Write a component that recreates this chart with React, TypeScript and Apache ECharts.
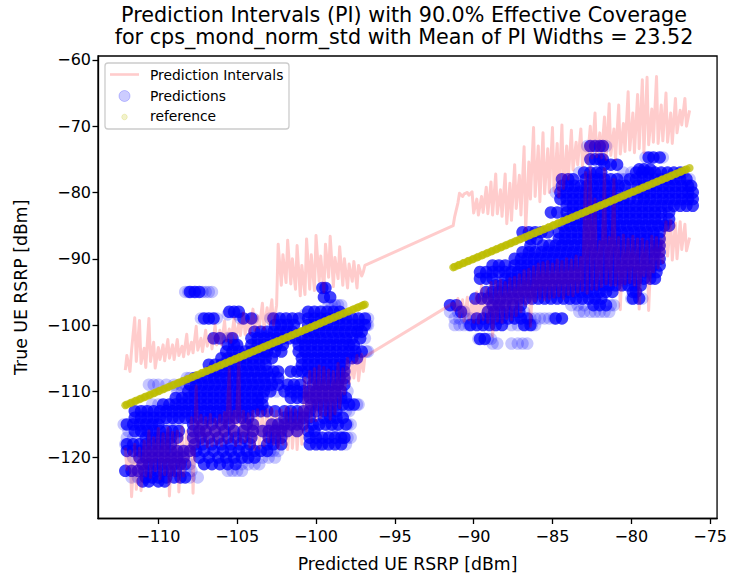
import React, { useEffect, useRef } from "react";
import * as echarts from "echarts";

const xTicks = [-110, -105, -100, -95, -90, -85, -80, -75];
const yTicks = [-120, -110, -100, -90, -80, -70, -60];

const piXLeft = [
  -112.1,-112,-111.8,-111.7,-111.5,-111.4,-111.2,-111.1,-110.9,-110.8,
  -110.6,-110.5,-110.3,-110.2,-110,-109.9,-109.7,-109.6,-109.4,-109.3,
  -109.1,-109,-108.8,-108.7,-108.5,-108.4,-108.2,-108.1,-107.9,-107.8,
  -107.6,-107.5,-107.3,-107.2,-107,-106.9,-106.7,-106.6,-106.4,-106.3,
  -106.1,-106,-105.8,-105.7,-105.5,-105.4,-105.2,-105.1,-104.9,-104.8,
  -104.6,-104.5,-104.3,-104.2,-104,-103.9,-103.7,-103.6,-103.4,-103.3,
  -103.1,-103,-102.8,-102.7,-102.5,-102.4,-102.2,-102.1,-101.9,-101.8,
  -101.6,-101.5,-101.3,-101.2,-101,-100.9,-100.7,-100.6,-100.4,-100.3,
  -100.1,-100,-99.8,-99.7,-99.5,-99.4,-99.2,-99.1,-98.9,-98.8,
  -98.6,-98.5,-98.3,-98.2,-98,-97.9,-97.7,-97.6,-97.4,-97.3,
  -97.1,-97,-96.9,
];
const upperLeft = [
  -106.8,-104.6,-107,-103.8,-98.9,-105.5,-99.3,-105.8,-103.5,-106.4,
  -99,-105.5,-102.6,-106.5,-103.4,-105.2,-103,-105.4,-102.2,-105,
  -103,-105.2,-102.2,-104.6,-103.2,-104.8,-101.4,-104.4,-102.6,-104.2,
  -100.2,-103.8,-102,-104,-100.8,-103.2,-101.4,-103.6,-100,-103,
  -100.8,-103,-99.4,-102.4,-100.6,-102.6,-99,-102,-99.8,-101.6,
  -98.2,-101.4,-99.4,-101.2,-97.6,-100.8,-98.6,-100.4,-96.7,-100.6,
  -97.4,-99.8,-96.2,-100,-97,-87.8,-94,-89.4,-93.6,-87.2,
  -93.8,-90,-94.6,-88,-95.6,-91,-95.4,-87,-94.6,-89.4,
  -94.8,-86.5,-93.4,-89.6,-95,-87.8,-92.8,-86.6,-94.2,-89.8,
  -93,-88.2,-94,-90,-94.4,-90.8,-93.4,-90.4,-94.4,-91,
  -92.6,-92,-91,
];
const lowerLeft = [
  -118.5,-121.8,-119,-125.9,-118,-124.8,-118.6,-125,-117.5,-122.8,
  -116,-123,-117,-122,-115.6,-123.2,-116.4,-122.6,-115.5,-125.8,
  -116.2,-122.8,-116,-125.2,-115.4,-122.8,-116,-121.5,-114,-125.4,
  -109.2,-118.4,-113.6,-118,-114,-118.4,-113.5,-118.2,-114.2,-118,
  -113.6,-118.2,-113.2,-117.8,-106.5,-117.6,-113,-118.2,-105,-118,
  -113,-117.6,-113.4,-118.4,-113,-118.8,-112.8,-118.6,-113,-118.2,
  -112.8,-117.6,-112.6,-118,-113,-118.6,-112.8,-118,-112.4,-118.8,
  -112.6,-118.6,-112.8,-118.8,-112.4,-118,-108,-116,-107,-114.6,
  -106.6,-114.4,-106.2,-114,-106.4,-113.6,-106.8,-114.2,-107,-113.4,
  -105.8,-112.5,-106.6,-110.4,-105,-108.8,-105.6,-108,-104.6,-108.4,
  -104.4,-107,-104.8,
];
const piXRight = [
  -91.3,-91.2,-91,-90.9,-90.7,-90.6,-90.4,-90.3,-90.1,-90,
  -89.8,-89.7,-89.5,-89.4,-89.2,-89.1,-88.9,-88.8,-88.6,-88.5,
  -88.3,-88.2,-88,-87.9,-87.7,-87.6,-87.4,-87.3,-87.1,-87,
  -86.8,-86.7,-86.5,-86.4,-86.2,-86.1,-85.9,-85.8,-85.6,-85.5,
  -85.3,-85.2,-85,-84.9,-84.7,-84.6,-84.4,-84.3,-84.1,-84,
  -83.8,-83.7,-83.5,-83.4,-83.2,-83.1,-82.9,-82.8,-82.6,-82.5,
  -82.3,-82.2,-82,-81.9,-81.7,-81.6,-81.4,-81.3,-81.1,-81,
  -80.8,-80.7,-80.5,-80.4,-80.2,-80.1,-79.9,-79.8,-79.6,-79.5,
  -79.3,-79.2,-79,-78.9,-78.7,-78.6,-78.4,-78.3,-78.1,-78,
  -77.8,-77.7,-77.5,-77.4,-77.2,-77.1,-76.9,-76.8,-76.6,-76.5,
  -76.3,
];
const upperRight = [
  -85,-83.6,-81.6,-80.1,-80.6,-80.2,-80,-80.4,-79.9,-83.1,
  -81,-83.4,-80.6,-83,-79.2,-83.2,-78.4,-83.4,-77.2,-83.2,
  -79.6,-83.6,-77.2,-84.7,-78.6,-84.2,-75.8,-82.4,-77.4,-83.4,
  -73.1,-85.7,-75.4,-81,-70.2,-80.6,-73,-81.4,-71,-80.2,
  -73.4,-80,-70.2,-79.8,-72.6,-80.6,-69.8,-79.4,-73,-78,
  -70.6,-76.6,-72.4,-75.8,-70.4,-76,-72.6,-75.6,-70,-74.8,
  -68,-74.6,-71,-74.8,-68.6,-75,-66.6,-74.4,-70.4,-75,
  -66.8,-74.2,-69.6,-73.8,-64.8,-73.6,-68,-74,-65.2,-73.4,
  -63,-74,-62.6,-72.8,-67.4,-72.4,-62.5,-72.6,-66.8,-72.2,
  -65,-72.4,-68,-72.6,-65.8,-71,-67.6,-69.8,-65.8,-70,
  -67.6,
];
const lowerRight = [
  -96.7,-97.8,-96,-98.8,-96.2,-99.4,-95.8,-99.2,-96.4,-99.6,
  -95,-99.7,-94,-99.2,-94.4,-99.6,-93.6,-101.7,-93.4,-99.4,
  -93.2,-99.6,-93.6,-99,-93,-99.2,-92.8,-98.6,-92.4,-98,
  -91.8,-97,-91.6,-100.2,-91.2,-96.4,-90.8,-96,-90.6,-96.2,
  -90.4,-96,-90.8,-95.8,-90.2,-95.6,-90.4,-96,-90,-95.4,
  -90.2,-95.6,-89.6,-95,-89.8,-94.8,-77,-95.2,-76.1,-94.6,
  -81,-94.6,-87.4,-94.2,-76.4,-93.8,-86.8,-94,-78,-94,
  -86.8,-97.7,-86.4,-93.8,-87,-93.6,-86.6,-94,-87,-97.6,
  -87,-92.6,-87.4,-97.8,-86.6,-92,-86.8,-91.4,-87,-90.6,
  -84.4,-89.6,-84.2,-90.2,-84.6,-90,-84.4,-88.6,-84.8,-88.8,
  -86.8,
];

// Each row: true RSRP, then predicted RSRP values on that row
const denseLeft = [
  [-94.4,-99.6,-99.4],
  [-95,-108,-107.7,-107.4],
  [-95.8,-99.5,-99.1],
  [-98,-105.5,-105.2,-104.9,-100.5,-100.1,-99.7,-99.3,-98.9,-98.5],
  [-99,-107.1,-106.8,-106.5,-104.6,-104.1,-102.7,-102.3,-101.9,-101.5,-101.1,-100.5,-100.1,-99.7,-99.3,-98.9,-98.5,-98.1,-97.7,-97.3,-96.9],
  [-100,-102.6,-102.2,-101.8,-101.4,-100.5,-100.1,-99.7,-99.3,-98.9,-98.5,-98.1,-97.7,-97.3,-96.9],
  [-101,-103.9,-103.5,-103.1,-102.7,-102.3,-101.9,-101.5,-100.6,-100.2,-99.8,-99.4,-99,-98.6,-98.2,-97.8,-97.4,-97.1],
  [-102,-106.5,-106.1,-105.3,-104.1,-103.7,-103.3,-102.9,-102.5,-102.1,-101.7,-101.3,-100.9,-100.5,-100.1,-99.7,-99.3,-98.9,-98.5,-98.1,-97.7,-97.2],
  [-103,-105.6,-105.2,-105,-104.1,-103.7,-103.3,-102.9,-102.5,-102.1,-101.1,-100.7,-100.3,-99.9,-99.5,-99.1,-98.7,-98.3,-97.9,-97.6],
  [-104,-105.7,-105.3,-104.9,-104.5,-104.1,-103.7,-103.3,-103.1,-102.6,-102.2,-101.1,-100.7,-100.3,-99.9,-99.5,-99.1,-98.7,-98.3,-97.9,-97.5,-97.1],
  [-105,-106,-105.6,-105.2,-104.8,-104.4,-104,-103.6,-103.2,-102.8,-100.9,-100.5,-100.1,-99.7,-99.3,-98.9,-98.5,-98.1,-97.7,-97.4],
  [-106,-106.8,-106.4,-106,-105.6,-105.2,-104.8,-104.4,-104,-103.6,-103.2,-100.9,-100.5,-100.1,-99.7,-99.3,-98.9,-98.5,-98.2],
  [-107,-106.7,-106.3,-105.9,-105.5,-105.1,-104.7,-104.3,-103.9,-103.5,-103.1,-102.7,-102.4,-101.6,-101.2,-100.9,-100.5,-100.1,-99.7,-99.3,-98.9,-98.5,-98.2],
  [-108,-107.7,-107.3,-106.9,-106.5,-106.1,-105.7,-105.3,-104.9,-104.5,-104.1,-103.7,-103.3,-102.9,-102.4,-100.5,-100.1,-99.7,-99.3,-98.9,-98.5,-98.2],
  [-109,-108,-107.6,-107.2,-106.8,-106.4,-106,-105.6,-105.2,-104.8,-104.4,-104,-103.6,-103.2,-102.8,-102.4,-101.8,-101.4,-101,-100.2,-99.8,-99.4,-99,-98.6,-98.2],
  [-110,-108.1,-107.7,-107.3,-106.9,-106.5,-106.1,-105.7,-105.3,-104.9,-104.5,-104.1,-103.7,-103.3,-102.9,-102,-101.6,-101.2,-100.8,-100.4,-100,-99.6,-99.2,-98.8,-98.4],
  [-111,-108.9,-108.5,-108.1,-107.7,-107.3,-106.9,-106.5,-106.1,-105.7,-105.3,-104.9,-104.5,-104.1,-103.7,-103.4,-101.6,-101.2,-100.8,-100.4,-100,-99.6,-99.2,-98.8,-98.4,-98.1],
  [-112,-109.7,-109.3,-108.9,-108.5,-108.1,-107.7,-107.3,-106.9,-106.5,-106.1,-105.7,-105.3,-104.9,-104.5,-104.1,-103.7,-103.4,-100.3,-99.9,-99.5,-99.1,-98.7,-98.3,-97.9,-97.6],
  [-113,-111.5,-111.1,-110.7,-110.3,-109.9,-109.5,-109.1,-108.7,-108.3,-107.9,-107.5,-107.1,-106.7,-106.3,-105.9,-105.5,-105.1,-104.7,-104.3,-103.9,-103.5,-103.1,-102.6,-102,-101.6,-101.2,-100.8,-100.4,-100,-99.5,-99.1,-98.7],
  [-114,-111.5,-111.1,-110.7,-110.3,-109.9,-109.5,-109.1,-108.7,-108.3,-107.9,-107.5,-107.1,-106.7,-106.3,-105.9,-105.5,-105.1,-104.7,-104.3,-102,-101.6,-101.2,-100.8,-100.4,-99.5,-99.1,-98.7,-98.3],
  [-115,-112,-111.6,-111.2,-110.8,-110.4,-110,-107.8,-107.2,-106.6,-106,-105.5,-104.4,-104,-102.8,-102.4,-102,-101.6,-101.2,-100.8,-100.2,-99.8,-99.4,-99,-98.6,-98.1],
  [-116,-111.5,-111.1,-110.7,-110.3,-109.9,-109.5,-109.1,-108.7,-107.8,-107.4,-107,-106.4,-105.8,-105.2,-104.6,-104,-103.4,-103,-102.6,-102.2,-101.8,-101.2,-100.5,-100.1],
  [-117,-110.8,-110.4,-110,-109.6,-109.2,-108.8,-107.8,-107.3,-106.8,-106.2,-105.6,-105.1,-104.6,-104.1,-103,-102.6,-102.2,-100.4,-100,-99.6,-99.2,-98.8,-98.4,-98.2],
  [-118,-112,-111.6,-111.2,-110.8,-110.4,-110,-109.6,-109.2,-107.7,-107.2,-106.6,-106,-105.4,-104.8,-104.2,-103.1,-102.7,-102.2,-100.4,-100,-99.6,-99.2,-98.8,-98.4],
  [-119,-112,-111.6,-111.2,-110.8,-110.4,-110,-109.6,-109.2,-108.8,-108.4,-108,-107.6,-107.1,-106.5,-105.9,-105.4,-104.9,-104.4,-103.9,-103.5,-103.1],
  [-120,-111.2,-110.8,-110.4,-110,-109.6,-109.2,-108.8,-108.4,-107.4,-106.8,-106.2,-105.7,-105.2,-104.7,-104.3,-103.9],
  [-121,-111,-110.6,-110.2,-109.8,-109.4,-109,-108.6,-108.3,-107.1,-106.6,-106.1,-105.6,-105.1],
  [-122,-112.1,-111.7,-111.3,-110.9,-110.5,-110.1,-109.7,-109.3,-108.9],
  [-123,-110.8,-110.4,-110,-109.5,-109,-108.6,-108.3],
  [-123.6,-111,-110.6,-110,-109.6],
];
const sparseLeft = [
  [-95,-108.3,-108.1,-107.9,-107.6,-107.2,-107,-106.8,-106.6],
  [-97,-99.2,-99,-98.8,-98.6,-98.4],
  [-98.4,-105.6,-105,-100.7,-98.3],
  [-99,-104.8,-104,-102.9,-96.7,-107.3,-106.3],
  [-100,-96.7,-96.8,-97],
  [-102,-105.6,-105.4,-96.9],
  [-104,-96.8,-96.7],
  [-108,-108.2,-108],
  [-109,-110.6,-110.3,-110,-109.5,-109,-108.6,-108.3],
  [-110,-108.8,-108.5,-102.5,-98],
  [-112,-110.4,-110,-97.3,-97.4],
  [-113,-110.9,-97.9,-98.1],
  [-115,-112.2,-109.3,-108.8,-98,-97.8],
  [-116,-111.9,-111,-99,-98.6],
  [-117,-112,-111.6,-97.8,-98,-98.2],
  [-118,-112.1,-99.7,-98.1],
  [-119,-102.7,-102.4,-102.9],
  [-120,-111.6,-103.4,-103,-102.6],
  [-121,-104.7,-104.3,-103.9,-103.6,-108],
  [-122,-108.6,-108.3,-107.9,-105.6,-105.3,-105,-104.7],
  [-123,-111.7,-111.3,-108,-107.5],
];
const denseRight = [
  [-73,-82.6,-82.3,-82,-81.8],
  [-74.7,-78.9,-78.6,-78.2],
  [-75,-82.6,-82.3,-82,-81.8],
  [-75.8,-81.7,-81.3,-80.9],
  [-76.5,-79.5,-79.2,-78.8],
  [-77,-83,-82.6,-82.2,-81.9,-79.7,-79.3,-78.9,-78.5,-78.1,-77.7,-77.3,-76.9],
  [-78,-84.4,-84,-83.7,-82.9,-82.5,-82.1,-81.7,-81.3,-80.9,-80.1,-79.7,-79.3,-78.9,-78.5,-78.1,-77.7,-77.3,-76.9,-76.5],
  [-79,-84.4,-84,-83.6,-83.2,-82.8,-82.4,-82,-81.6,-81.2,-80.8,-80.4,-79.6,-79.2,-78.8,-78.4,-78,-77.6,-77.2,-76.8,-76.4,-76.2],
  [-80,-84.5,-84.1,-83.7,-83.3,-82.9,-82.5,-82.1,-81.7,-81.3,-80.9,-79.6,-79.2,-78.8,-78.4,-78,-77.6,-77.2,-76.8,-76.4,-76.1],
  [-81,-84.5,-84.1,-83.7,-83.3,-82.9,-82.5,-82.1,-81.7,-81.3,-80.9,-80.5,-80.1,-79.6,-79.2,-78.8,-78.4,-78,-77.6,-77.2,-76.8,-76.4,-76.1],
  [-82,-84.1,-83.7,-83.3,-82.9,-82.5,-82.1,-81.7,-81.3,-80.9,-80.5,-80.1,-79.7,-79.3,-78.9,-78.5,-78.1,-77.7,-77.3,-76.9,-76.5,-76.1],
  [-83,-85.1,-84.7,-84.1,-83.7,-83.3,-82.9,-82.5,-82.1,-81.7,-81.3,-80.9,-80.5,-80.1,-79.7,-79.3,-78.9,-78.5,-78.1,-77.6],
  [-84,-84.1,-83.7,-83.3,-82.9,-82.5,-82.1,-81.7,-81.3,-80.9,-80.5,-80.1,-79.7,-79.3,-78.9,-78.5,-78.1,-77.6],
  [-85,-84.3,-83.9,-83.5,-83.1,-82.7,-82.3,-81.9,-81.5,-81.1,-80.7,-80.3,-79.9,-79.5,-79.1,-78.7,-78.3,-77.9,-77.6],
  [-86,-86.9,-86.5,-86.1,-85.7,-85.3,-84.6,-84.2,-83.8,-83.4,-83,-82.6,-82.2,-81.8,-81.4,-81,-80.6,-80.2,-79.8,-79.4,-79,-78.6,-78.2],
  [-87,-86.4,-86,-84.6,-84.2,-83.8,-83.4,-83,-82.6,-82.2,-81.8,-81.4,-81,-80.6,-80.2,-79.8,-79.4,-79,-78.6,-78.2],
  [-88,-86.4,-85.6,-85.2,-84.8,-84.4,-84,-83.6,-83.2,-82.8,-82.4,-82,-81.6,-81.2,-80.8,-80.4,-80,-79.6,-79.2,-78.8,-78.4,-78.2],
  [-89,-86.9,-86.5,-86.1,-85.7,-85.3,-84.9,-84.5,-84.1,-83.7,-83.3,-82.9,-82.5,-82.1,-81.7,-81.3,-80.9,-80.5,-80.1,-79.7,-79.3,-78.9,-78.5,-78.2],
  [-90,-87.4,-87,-86.6,-86.2,-85.8,-85.4,-85,-84.6,-84.2,-83.8,-83.4,-83,-82.6,-82.2,-81.8,-81.4,-81,-80.6,-80.2,-79.8,-79.4,-79,-78.6,-78.2],
  [-91,-88.8,-88.4,-88,-87.4,-87,-86.6,-86.2,-85.8,-85.4,-85,-84.6,-84.2,-83.8,-83.4,-83,-82.6,-82.2,-81.8,-81.4,-81,-80.6,-80.2,-79.8,-79.4,-79,-78.6,-78.2],
  [-92,-89.6,-89.2,-88.8,-88.4,-88,-87.6,-87.2,-86.8,-86.4,-86,-85.6,-85.2,-84.8,-84.4,-84,-83.6,-83.2,-82.8,-82.4,-82,-81.6,-81.2,-80.8,-80.4,-80,-79.6,-79.2,-78.8,-78.4],
  [-93,-89.6,-89.2,-88.8,-88,-87.6,-87.2,-86.8,-86.4,-86,-85.6,-85.2,-84.8,-84.4,-84,-83.6,-83.2,-82.8,-82.4,-82,-81.6,-81.2,-80.8,-80.4,-80,-79.6,-79.2,-78.8,-78.5],
  [-94,-88.6,-88.2,-87.8,-87.4,-87,-86.6,-86.2,-85.8,-85.4,-85,-84.6,-84.2,-83.8,-83.4,-83,-82.6,-82.2,-81.8,-81.4,-81,-80.6,-80.2,-79.8,-79.4],
  [-95,-89.2,-88.8,-88.4,-88,-87.6,-87.2,-86.8,-86.4,-86,-85.6,-85.2,-84.8,-84.4,-84,-83.6,-83.2,-82.8,-82.4,-82,-81.6,-81.2,-79.9,-79.7],
  [-96,-89.9,-89.5,-89.1,-88.7,-88.3,-87.9,-87.5,-87.1,-86.7,-86.3,-85.9,-85.5,-85.1,-84.7,-84.3,-83.9,-83.5,-83.1,-82.7,-82.3,-81.9,-79.9,-79.5],
  [-97,-91.5,-91.1,-88.8,-88.4,-88,-87.5,-87,-82.4,-82,-81.6],
  [-98,-90.8,-89.1,-88.7,-88.3,-87.9,-87.5,-87.1],
  [-99,-89.8,-89.4,-89,-88.6,-88.2,-87.8,-87.4,-87,-86.6,-84.8,-84.4],
  [-100,-90.2,-89.8,-89.4,-89,-88.6,-88.2,-86.8,-86.4],
  [-102.1,-89.6,-89.3],
];
const sparseRight = [
  [-73,-82.8,-81.6],
  [-74.7,-79.1,-78],
  [-77,-83.3,-80.5,-80,-76.7],
  [-78,-80.6,-76.3,-80.4],
  [-79,-80.2,-80],
  [-80,-80.5,-80.2,-80,-84.8],
  [-96,-80,-79.3],
  [-97,-83.8,-83.4,-83,-81.3,-81.1],
  [-98,-91.5,-91,-90.6,-86.8,-83.3,-83,-82.6,-82.3,-82,-81.7,-81.4],
  [-99,-91.2,-90.9,-90.5,-90.2,-86.4,-86.1,-85.8,-85.5,-85.2,-84.9],
  [-100,-91.2,-90.9,-90.6,-90.3,-87.6,-87.2,-86.7,-86.3,-86.1],
  [-102.1,-89.7,-89.1,-88.9],
  [-102.8,-88.8,-88.5,-87.6,-87.2,-86.9,-86.6],
];

const toRowPoints = (rows: number[][]) =>
  rows.flatMap((row) => row.slice(1).map((x) => [x, row[0]]));
const zipLine = (xs: number[], ys: number[]) =>
  xs.slice(0, ys.length).map((x, i) => [x, ys[i]]);

const font = "DejaVu Sans";

export default function App() {
  const ref = useRef<HTMLDivElement>(null);
  useEffect(() => {
    document.body.style.margin = "0";
    const chart = echarts.init(ref.current!, null, { renderer: "svg" });
    const minus = (v: any) => String(v).replace("-", "\u2212");
    const predictions = {
      type: "scatter",
      name: "Predictions",
      symbol: "circle",
      symbolSize: 12.5,
      silent: true,
      z: 2,
    };
    const piLine = {
      type: "line",
      name: "Prediction Intervals",
      showSymbol: false,
      symbol: "none",
      silent: true,
      z: 3,
      lineStyle: { color: "#ff0000", width: 3, opacity: 0.2, join: "round" },
    };
    chart.setOption({
      animation: false,
      backgroundColor: "#ffffff",
      textStyle: { fontFamily: font, color: "#000" },
      title: {
        text: "Prediction Intervals (PI) with 90.0% Effective Coverage\nfor cps_mond_norm_std with Mean of PI Widths = 23.52",
        left: 399,
        top: -1.5,
        textAlign: "center",
        textStyle: { fontFamily: font, fontSize: 20.7, fontWeight: "normal", color: "#000", lineHeight: 22.5 },
      },
      grid: {
        left: 98,
        right: 11.5,
        top: 56,
        bottom: 59.5,
        show: true,
        borderColor: "#000",
        borderWidth: 1.3,
        containLabel: false,
      },
      xAxis: {
        type: "value",
        min: -113.83,
        max: -74.56,
        name: "Predicted UE RSRP [dBm]",
        nameLocation: "middle",
        nameGap: 37,
        nameTextStyle: { fontFamily: font, fontSize: 17.3, color: "#000" },
        splitLine: { show: false },
        axisLine: { show: true, onZero: false, lineStyle: { color: "#000", width: 1.3 } },
        axisTick: { show: true, length: 5.5, customValues: xTicks, lineStyle: { color: "#000", width: 1.3 } },
        axisLabel: { customValues: xTicks, formatter: minus, fontFamily: font, fontSize: 16, color: "#000", margin: 10 },
      },
      yAxis: {
        type: "value",
        min: -129.2,
        max: -59.4,
        name: "True UE RSRP [dBm]",
        nameLocation: "middle",
        nameGap: 69,
        nameTextStyle: { fontFamily: font, fontSize: 17.3, color: "#000" },
        splitLine: { show: false },
        axisLine: { show: true, onZero: false, lineStyle: { color: "#000", width: 1.3 } },
        axisTick: { show: true, length: 5.5, customValues: yTicks, lineStyle: { color: "#000", width: 1.3 } },
        axisLabel: { customValues: yTicks, formatter: minus, fontFamily: font, fontSize: 16, color: "#000", margin: 7 },
      },
      series: [
        { ...predictions, data: toRowPoints(sparseLeft.concat(sparseRight)), itemStyle: { color: "#0000ff", opacity: 0.22 } },
        { ...predictions, data: toRowPoints(denseLeft.concat(denseRight)), itemStyle: { color: "#0000ff", opacity: 0.75 } },
        { ...piLine, data: zipLine(piXLeft.concat(piXRight), upperLeft.concat(upperRight)) },
        { ...piLine, data: zipLine(piXLeft.concat(piXRight), lowerLeft.concat(lowerRight)) },
        {
          type: "scatter",
          name: "reference",
          symbol: "circle",
          symbolSize: 8,
          silent: true,
          z: 4,
          data: piXLeft.concat(piXRight).map((x) => [x, x]),
          itemStyle: { color: "#bcbc00", opacity: 0.75 },
        },
      ],
      graphic: [
        {
          type: "rect",
          z: 10,
          shape: { x: 105, y: 63, width: 184, height: 66, r: 3 },
          style: { fill: "rgba(255,255,255,0.8)", stroke: "#cccccc", lineWidth: 1.3 },
        },
        {
          type: "line",
          z: 11,
          shape: { x1: 110, y1: 74.5, x2: 139, y2: 74.5 },
          style: { stroke: "#ffcccc", lineWidth: 2.6 },
        },
        { type: "circle", z: 11, shape: { cx: 124.5, cy: 96, r: 5.5 }, style: { fill: "rgba(0,0,255,0.2)", stroke: "rgba(0,0,255,0.2)", lineWidth: 1 } },
        { type: "circle", z: 11, shape: { cx: 124.5, cy: 117, r: 2.8 }, style: { fill: "rgba(191,191,0,0.2)", stroke: "rgba(191,191,0,0.2)", lineWidth: 1 } },
        { type: "text", z: 11, x: 150, y: 74.5, style: { text: "Prediction Intervals", font: `13.85px "${font}"`, fill: "#000", textVerticalAlign: "middle" } },
        { type: "text", z: 11, x: 150, y: 95.5, style: { text: "Predictions", font: `13.85px "${font}"`, fill: "#000", textVerticalAlign: "middle" } },
        { type: "text", z: 11, x: 150, y: 116, style: { text: "reference", font: `13.85px "${font}"`, fill: "#000", textVerticalAlign: "middle" } },
      ],
    });
    return () => chart.dispose();
  }, []);
  return <div ref={ref} style={{ width: 730, height: 578 }} />;
}
